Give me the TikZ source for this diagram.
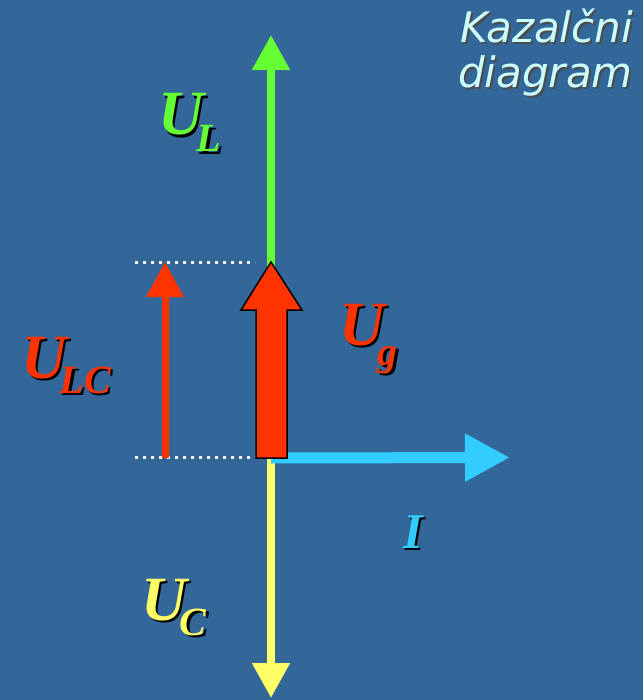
\documentclass[tikz,border=0pt]{standalone}
\usepackage{fontspec}
\newfontfamily\phfont{Liberation Serif}
\newfontfamily\titlefont{DejaVu Sans}
\usetikzlibrary{arrows.meta}

\definecolor{bgblue}{RGB}{51,102,153}
\definecolor{phgreen}{RGB}{102,255,51}
\definecolor{phyellow}{RGB}{255,255,102}
\definecolor{phblue}{RGB}{51,204,255}
\definecolor{phred}{RGB}{255,51,0}
\definecolor{titlecyan}{RGB}{204,255,255}

\tikzset{
  phasor/.style={line width=#1, -{Triangle[width=36pt,length=35pt]}},
  lbl/.style={anchor=base west, inner sep=0pt, font=\phfont\bfseries\itshape\fontsize{63}{63}\selectfont},
  ttl/.style={anchor=base east, inner sep=0pt, text=titlecyan, font=\titlefont\itshape\fontsize{42}{42}\selectfont},
  dotline/.style={white, line width=3pt, dash pattern=on 3pt off 5pt}
}
% subscript: lowered by #1, text #2
\newcommand{\phsub}[2]{\kern-7pt\raisebox{-#1pt}{\fontsize{40}{40}\selectfont #2}}
% label with black drop shadow
\newcommand{\phlabel}[4]{%
  \node[lbl, text=black, xshift=2.5pt, yshift=-2.5pt] at #2 {#4};
  \node[lbl, text=#3] (#1) at #2 {#4};}

\begin{document}
\begin{tikzpicture}[x=1pt, y=-1pt]
    \fill[bgblue] (0,0) rectangle (643,700);
    \useasboundingbox (0,0) rectangle (643,700);

    \coordinate (O) at (271,458);
    \coordinate (L) at (271,35);
    \coordinate (C) at (271,698);
    \coordinate (I) at (510,457.5);
    \coordinate (G) at (271,262);
    \coordinate (lc0) at (165,458);
    \coordinate (lc1) at (165,262);
    \coordinate (d0) at (135,262);
    \coordinate (d1) at (255,262);
    \coordinate (d2) at (135,457);
    \coordinate (d3) at (255,457);

    % dotted guides
    \draw[dotline] (d0) -- (d1);
    \draw[dotline] (d2) -- (d3);

    % phasors
    \draw[phasor=8pt, phgreen] (O) -- (L);
    \draw[phasor=8pt, phyellow] (O) -- (C);
    \draw[line width=11pt, phblue, -{Triangle[width=45pt,length=45pt]}] (O) -- (I);
    \draw[phasor=7pt, phred] (lc0) -- (lc1);

    % U_g block arrow
    \filldraw[fill=phred, draw=black, line width=1.5pt, line join=miter]
      (G) -- ++(31,48) -- ++(-15,0) -- (287,458) -- (256,458) -- (256,310) -- ++(-15,0) -- cycle;

    % labels
    \phlabel{ul}{(158,135)}{phgreen}{U\phsub{17}{L}}
    \phlabel{ug}{(339,345)}{phred}{U\phsub{20}{g}}
    \phlabel{ulc}{(21,378)}{phred}{U\phsub{15}{LC}}
    \phlabel{uc}{(141,620)}{phyellow}{U\phsub{15}{C}}
    \node[lbl, text=black, xshift=2.5pt, yshift=-2.5pt, font=\phfont\bfseries\itshape\fontsize{50}{50}\selectfont] at (403,548) {I};
    \node[lbl, text=phblue, font=\phfont\bfseries\itshape\fontsize{50}{50}\selectfont] (il) at (403,548) {I};

    % title
    \node[ttl, text=black!70, xshift=2pt, yshift=-2pt] at (633,43) {Kazalčni};
    \node[ttl] (title1) at (633,43) {Kazalčni};
    \node[ttl, text=black!70, xshift=2pt, yshift=-2pt] at (633,88) {diagram};
    \node[ttl] (title2) at (633,88) {diagram};
\end{tikzpicture}
\end{document}
